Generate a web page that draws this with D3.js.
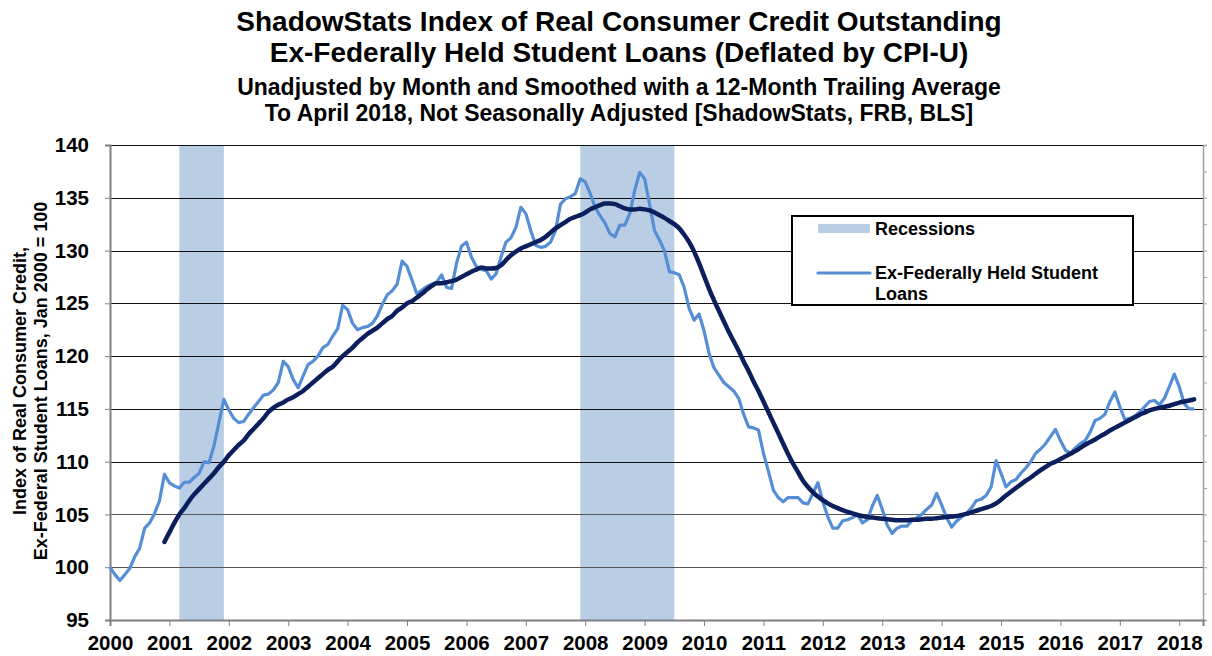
<!DOCTYPE html>
<html>
<head>
<meta charset="utf-8">
<script src="https://cdn.jsdelivr.net/npm/d3@7"></script>
<style>
  body { margin: 0; background: #fff; }
  text { font-family: "Liberation Sans", Arial, sans-serif; font-weight: bold; }
</style>
</head>
<body>
<div id="chart"></div>
<script>
// monthly index, Jan 2000 .. Apr 2018
const startYear = 2000;
const monthly = [
  100.0, 99.3, 98.75, 99.3, 99.9, 101.0, 101.8, 103.7, 104.2, 105.1, 106.3, 108.8,
  108.0, 107.7, 107.5, 108.05, 108.05, 108.5, 108.9, 110.0, 109.9, 111.5, 113.7, 115.9,
  114.9, 114.1, 113.7, 113.8, 114.5, 115.1, 115.7, 116.3, 116.4, 116.8, 117.5, 119.5,
  119.0, 117.8, 117.0, 118.1, 119.2, 119.5, 120.0, 120.8, 121.1, 121.9, 122.6, 124.8,
  124.4, 123.1, 122.5, 122.7, 122.8, 123.1, 123.8, 124.9, 125.8, 126.2, 126.8, 129.0,
  128.5, 127.2, 125.9, 126.25, 126.6, 126.8, 127.0, 127.7, 126.5, 126.4, 128.8, 130.4,
  130.8, 129.4, 128.5, 128.2, 128.1, 127.3, 127.8, 129.4, 130.8, 131.2, 132.2, 134.1,
  133.5, 131.9, 130.5, 130.3, 130.4, 130.8, 131.9, 134.4, 134.9, 135.1, 135.4, 136.8,
  136.5, 135.4, 134.1, 133.3, 132.6, 131.6, 131.3, 132.4, 132.4, 133.5, 135.7, 137.4,
  136.8, 134.4, 131.9, 131.0, 130.0, 128.0, 127.9, 127.7, 126.5, 124.5, 123.4, 124.0,
  122.4, 120.3, 118.9, 118.2, 117.5, 117.1, 116.7, 116.0, 114.5, 113.3, 113.2, 113.0,
  110.8, 109.1, 107.3, 106.6, 106.2, 106.6, 106.6, 106.6, 106.1, 106.0, 107.0, 108.0,
  106.2, 104.8, 103.7, 103.7, 104.4, 104.5, 104.7, 105.0, 104.2, 104.5, 105.8, 106.8,
  105.5, 104.0, 103.2, 103.7, 103.9, 103.9, 104.4, 104.7, 105.0, 105.5, 105.9, 107.0,
  105.9, 104.7, 103.8, 104.35, 104.75, 105.1, 105.6, 106.3, 106.45, 106.8, 107.6, 110.1,
  108.9, 107.6, 108.1, 108.3, 108.9, 109.4, 110.0, 110.8, 111.2, 111.7, 112.4, 113.05,
  112.0, 111.1, 110.8, 111.3, 111.7, 112.0, 112.8, 113.9, 114.1, 114.5, 115.7, 116.6,
  115.2, 114.0, 114.1, 114.3, 114.7, 115.2, 115.7, 115.8, 115.4, 116.0, 117.1, 118.3,
  117.1, 115.5, 115.0, 115.0
];

// 12-month trailing average, Dec 2000 .. Apr 2018
const smoothedStart = 11; // month index of first value
const smoothed = [
  102.4, 103.3, 104.2, 105.0, 105.6, 106.3, 106.9, 107.4, 107.9, 108.4, 108.9, 109.5, 110.0,
  110.6, 111.1, 111.6, 112.0, 112.6, 113.1, 113.6, 114.1, 114.7, 115.1, 115.4, 115.6,
  115.9, 116.1, 116.4, 116.7, 117.1, 117.5, 117.9, 118.3, 118.7, 119.0, 119.5, 120.0,
  120.4, 120.8, 121.3, 121.7, 122.1, 122.4, 122.7, 123.1, 123.5, 123.8, 124.3, 124.6,
  125.0, 125.2, 125.55, 125.9, 126.3, 126.65, 126.9, 126.9, 127.0, 127.1, 127.25, 127.5,
  127.75, 128.0, 128.2, 128.4, 128.3, 128.3, 128.35, 128.6, 129.1, 129.55, 129.9, 130.2,
  130.4, 130.6, 130.8, 131.0, 131.3, 131.7, 132.1, 132.4, 132.7, 133.0, 133.2, 133.35,
  133.6, 133.9, 134.1, 134.3, 134.45, 134.45, 134.4, 134.2, 134.0, 133.9, 133.9, 133.95,
  133.9, 133.8, 133.6, 133.35, 133.1, 132.8, 132.5, 132.1, 131.5, 130.8, 129.9, 128.8,
  127.6, 126.4, 125.3, 124.3, 123.3, 122.3, 121.4, 120.5, 119.5, 118.6, 117.6, 116.7,
  115.7, 114.7, 113.7, 112.7, 111.7, 110.7, 109.8, 109.0, 108.2, 107.6, 107.1, 106.7,
  106.35, 106.05, 105.8, 105.6, 105.4, 105.25, 105.1, 104.95, 104.85, 104.75, 104.7, 104.65,
  104.6, 104.55, 104.5, 104.45, 104.45, 104.45, 104.5, 104.5, 104.55, 104.6, 104.6, 104.65,
  104.7, 104.75, 104.8, 104.85, 104.95, 105.05, 105.2, 105.35, 105.5, 105.65, 105.8, 106.05,
  106.4, 106.8, 107.15, 107.5, 107.85, 108.2, 108.5, 108.85, 109.2, 109.5, 109.8, 110.0,
  110.25, 110.5, 110.75, 111.0, 111.3, 111.6, 111.85, 112.1, 112.4, 112.65, 112.95, 113.2,
  113.45, 113.7, 113.95, 114.2, 114.45, 114.65, 114.85, 115.0, 115.1, 115.2, 115.3, 115.45,
  115.6, 115.7, 115.8, 115.9
];

// recession periods in fractional years
const recessions = [[2001 + 2/12, 2001 + 11/12], [2007 + 11/12, 2009 + 6/12]];
const yTicks = [95, 100, 105, 110, 115, 120, 125, 130, 135, 140];
const xTicks = d3.range(2000, 2019);

const titleLines = [
  "ShadowStats Index of Real Consumer Credit Outstanding",
  "Ex-Federally Held Student Loans (Deflated by CPI-U)",
  "Unadjusted by Month and Smoothed with a 12-Month Trailing Average",
  "To April 2018, Not Seasonally Adjusted [ShadowStats, FRB, BLS]"
];

let dimensions = {
  width: 1212,
  height: 656,
  margin: { top: 145, right: 9, bottom: 36, left: 110 },
};
dimensions.boundedWidth = dimensions.width - dimensions.margin.left - dimensions.margin.right;
dimensions.boundedHeight = dimensions.height - dimensions.margin.top - dimensions.margin.bottom;

const svgRoot = d3.select("#chart")
  .append("svg")
  .attr("width", dimensions.width)
  .attr("height", dimensions.height);

const svg = svgRoot.append("g")
  .attr("transform", `translate(${dimensions.margin.left}, ${dimensions.margin.top})`);

const x = d3.scaleLinear()
  .domain([2000, 2018.4])
  .range([0, dimensions.boundedWidth]);

const y = d3.scaleLinear()
  .domain([95, 140])
  .range([dimensions.boundedHeight, 0]);

// recession bands
svg.append("g")
  .selectAll("rect")
  .data(recessions)
  .join("rect")
  .attr("x", d => x(d[0]))
  .attr("width", d => x(d[1]) - x(d[0]))
  .attr("y", 0)
  .attr("height", dimensions.boundedHeight)
  .style("fill", "#b9cde5");

// gridlines
svg.append("g")
  .selectAll("line")
  .data(yTicks.filter(d => d > 95))
  .join("line")
  .attr("x1", 0)
  .attr("x2", dimensions.boundedWidth)
  .attr("y1", d => Math.round(y(d)) + 0.5)
  .attr("y2", d => Math.round(y(d)) + 0.5)
  .style("stroke", d => d >= 110 ? "#111" : "#555")
  .style("stroke-width", 1.2);

// Y axis
const yAxis = svg.append("g")
  .call(d3.axisLeft(y).tickValues(yTicks).tickSize(5).tickPadding(16));
yAxis.select(".domain").style("stroke", "#808080").style("stroke-width", 2);
yAxis.selectAll(".tick line").style("stroke", "#808080");
yAxis.selectAll("text")
  .style("font-size", "20.5px")
  .style("font-family", "'Liberation Sans', Arial, sans-serif")
  .style("font-weight", "bold")
  .attr("fill", "#000");

// right side axis
const rAxis = svg.append("g")
  .attr("transform", `translate(${dimensions.boundedWidth}, 0)`)
  .call(d3.axisRight(y).tickValues(d3.range(95, 140.1, 2.5)).tickSize(4).tickFormat(""));
rAxis.select(".domain").style("stroke", "#a0a0a0").style("stroke-width", 1.5);
rAxis.selectAll(".tick line").style("stroke", "#a0a0a0");

// X axis
const xAxis = svg.append("g")
  .attr("transform", `translate(0, ${dimensions.boundedHeight})`)
  .call(d3.axisBottom(x).tickValues(xTicks).tickFormat(d3.format("d")).tickSize(6).tickPadding(9));
xAxis.select(".domain").style("stroke", "#808080").style("stroke-width", 2);
xAxis.selectAll(".tick line").style("stroke", "#808080");
xAxis.selectAll("text")
  .style("font-size", "20.5px")
  .style("font-family", "'Liberation Sans', Arial, sans-serif")
  .style("font-weight", "bold")
  .attr("fill", "#000");

// lines
const monthX = i => x(startYear + i / 12);

const lightLine = d3.line()
  .x((d, i) => monthX(i))
  .y(d => y(d));
svg.append("path")
  .datum(monthly)
  .attr("d", lightLine)
  .style("fill", "none")
  .style("stroke", "#558ed5")
  .style("stroke-width", 3.2)
  .style("stroke-linejoin", "round");

const darkLine = d3.line()
  .x((d, i) => monthX(i + smoothedStart))
  .y(d => y(d))
  .curve(d3.curveMonotoneX);
svg.append("path")
  .datum(smoothed)
  .attr("d", darkLine)
  .style("fill", "none")
  .style("stroke", "#0b1f5c")
  .style("stroke-width", 4.5)
  .style("stroke-linecap", "round")
  .style("stroke-linejoin", "round");

// titles
const titleSizes = [28, 28, 23, 23];
const titleY = [31, 62, 95, 121];
svgRoot.append("g")
  .selectAll("text")
  .data(titleLines)
  .join("text")
  .attr("x", 619)
  .attr("y", (d, i) => titleY[i])
  .attr("text-anchor", "middle")
  .style("font-size", (d, i) => titleSizes[i] + "px")
  .text(d => d);

// y axis title
const yTitle = svgRoot.append("text")
  .attr("transform", "translate(26, 381) rotate(-90)")
  .attr("text-anchor", "middle")
  .style("font-size", "18px");
yTitle.append("tspan").attr("x", 0).attr("y", 0).text("Index of Real Consumer Credit,");
yTitle.append("tspan").attr("x", 0).attr("y", 21).text("Ex-Federal Student Loans, Jan 2000 = 100");

// legend
const legend = svgRoot.append("g");
legend.append("rect")
  .attr("x", 792).attr("y", 216)
  .attr("width", 341).attr("height", 89)
  .style("fill", "#fff")
  .style("stroke", "#000")
  .style("stroke-width", 2);
legend.append("rect")
  .attr("x", 818).attr("y", 224)
  .attr("width", 52).attr("height", 9)
  .style("fill", "#b9cde5");
legend.append("line")
  .attr("x1", 818).attr("x2", 870)
  .attr("y1", 273).attr("y2", 273)
  .style("stroke", "#558ed5")
  .style("stroke-width", 3.2)
  .style("stroke-linecap", "round");
legend.append("text").attr("x", 875).attr("y", 235).style("font-size", "18px").text("Recessions");
legend.append("text").attr("x", 875).attr("y", 279).style("font-size", "18px").text("Ex-Federally Held Student");
legend.append("text").attr("x", 875).attr("y", 300).style("font-size", "18px").text("Loans");
</script>
</body>
</html>
